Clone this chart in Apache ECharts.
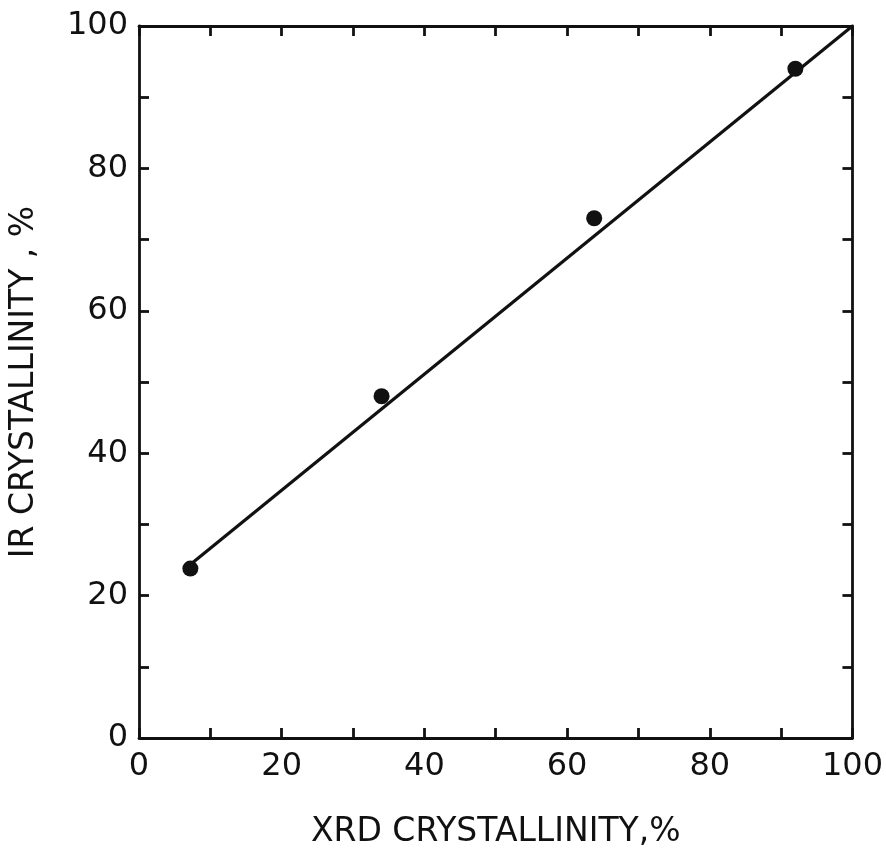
<!DOCTYPE html>
<html>
<head>
<meta charset="utf-8">
<script src="https://cdn.jsdelivr.net/npm/echarts@6/dist/echarts.min.js"></script>
<style>
  html, body { margin: 0; padding: 0; background: #fff; }
  #chart { width: 886px; height: 854px; }
</style>
</head>
<body>
<div id="chart"></div>
<script>
// Measured samples: XRD crystallinity vs IR crystallinity (%)
const xrdValues = [7.2, 34, 63.8, 92];
const irValues = [23.8, 48, 73, 94];
// Fitted straight line through the samples, ending at the (100, 100) corner
const fitX = [7.5, 100];
const fitY = [24.6, 100];
const tickLabels = [0, 20, 40, 60, 80, 100];

const ink = '#111';
const font = '"DejaVu Sans", Verdana, sans-serif';

const chart = echarts.init(document.getElementById('chart'), null, { renderer: 'canvas' });

const frameAxis = (extra) => Object.assign({
  type: 'value', min: 0, max: 100, interval: 10,
  axisLine: { show: true, onZero: false, lineStyle: { color: ink, width: 2.8 } },
  axisTick: { show: true, inside: true, length: 10, lineStyle: { color: ink, width: 2.8 } },
  splitLine: { show: false }
}, extra);

const labelStyle = {
  color: ink, fontFamily: font, fontSize: 32,
  formatter: (v) => tickLabels.includes(v) ? String(v) : ''
};

chart.setOption({
  animation: false,
  backgroundColor: '#fff',
  grid: { left: 137, right: 32, top: 26, bottom: 111 },
  xAxis: [
    frameAxis({
      position: 'bottom',
      name: 'XRD CRYSTALLINITY,%',
      nameLocation: 'middle', nameGap: 78,
      nameTextStyle: { color: ink, fontFamily: font, fontSize: 33 },
      axisLabel: Object.assign({ margin: 13 }, labelStyle)
    }),
    frameAxis({ position: 'top', axisLabel: { show: false } })
  ],
  yAxis: [
    frameAxis({
      position: 'left',
      name: 'IR CRYSTALLINITY , %',
      nameLocation: 'middle', nameGap: 98,
      nameTextStyle: { color: ink, fontFamily: font, fontSize: 33 },
      axisLabel: Object.assign({ margin: 11 }, labelStyle)
    }),
    frameAxis({ position: 'right', axisLabel: { show: false } })
  ],
  series: [
    {
      type: 'line',
      data: fitX.map((x, i) => [x, fitY[i]]),
      showSymbol: false,
      symbol: 'none',
      lineStyle: { color: ink, width: 3.2 },
      z: 2
    },
    {
      type: 'scatter',
      data: xrdValues.map((x, i) => [x, irValues[i]]),
      symbol: 'circle',
      symbolSize: 16,
      itemStyle: { color: ink, opacity: 1 },
      z: 3
    }
  ]
});
</script>
</body>
</html>
